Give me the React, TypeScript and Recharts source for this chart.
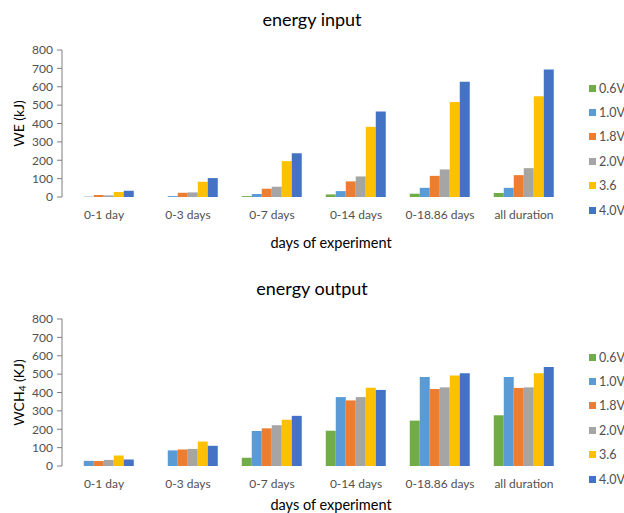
import React from "react";
import { BarChart, Bar, XAxis, YAxis, Label } from "recharts";

const categories = ["0-1 day", "0-3 days", "0-7 days", "0-14 days", "0-18.86 days", "all duration"];
const seriesNames = ["0.6V", "1.0V", "1.8V", "2.0V", "3.6", "4.0V"];
const seriesColors = ["#70AD47", "#5B9BD5", "#ED7D31", "#A5A5A5", "#FFC000", "#4472C4"];

// energy input, WE (kJ)
const input06 = [0, 0, 5, 14, 18, 22];
const input10 = [2, 5, 16, 32, 50, 50];
const input18 = [11, 23, 45, 85, 115, 119];
const input20 = [9, 25, 56, 112, 150, 157];
const input36 = [27, 83, 195, 382, 517, 548];
const input40 = [34, 103, 238, 465, 627, 694];

// energy output, WCH4 (KJ)
const output06 = [0, 0, 45, 192, 247, 276];
const output10 = [28, 85, 190, 375, 485, 485];
const output18 = [27, 90, 205, 357, 419, 425];
const output20 = [33, 93, 222, 375, 428, 428];
const output36 = [57, 133, 252, 426, 492, 505];
const output40 = [36, 110, 273, 414, 505, 539];

const yTicks = [0, 100, 200, 300, 400, 500, 600, 700, 800];

const FONT = "Lato, 'Open Sans', sans-serif";
const TEXT = "#505050";
const AXIS = "#7f7f7f";

function buildRows(series: number[][]) {
  return categories.map((name, i) => {
    const row: Record<string, string | number> = { name };
    seriesNames.forEach((s, j) => {
      row[s] = series[j][i];
    });
    return row;
  });
}

const inputRows = buildRows([input06, input10, input18, input20, input36, input40]);
const outputRows = buildRows([output06, output10, output18, output20, output36, output40]);

function YTitle({ viewBox, sub }: any) {
  const cy = viewBox.y + viewBox.height / 2;
  return (
    <text
      x={18}
      y={cy}
      transform={`rotate(-90, 18, ${cy})`}
      textAnchor="middle"
      dominantBaseline="central"
      fill="#000"
      fontSize={14}
      fontFamily={FONT}
    >
      {sub ? (
        <>
          WCH
          <tspan fontSize={10} dy={4}>4</tspan>
          <tspan dy={-4}> (KJ)</tspan>
        </>
      ) : (
        "WE (kJ)"
      )}
    </text>
  );
}

function EnergyChart({
  title,
  rows,
  sub,
  height,
  labelOffset,
}: {
  title: string;
  rows: any[];
  sub?: boolean;
  height: number;
  labelOffset: number;
}) {
  // plot area always spans y 50..197 inside the chart
  const bottom = height - 197 - 30;
  return (
    <div style={{ position: "relative", width: 624, height }}>
      <div
        style={{
          position: "absolute",
          top: 8,
          left: 0,
          width: 624,
          textAlign: "center",
          fontFamily: FONT,
          fontSize: 18,
          color: "#000",
        }}
      >
        {title}
      </div>
      <BarChart
        width={624}
        height={height}
        data={rows}
        margin={{ top: 50, right: 58, left: 0, bottom }}
        barGap={0}
        barCategoryGap="14%"
      >
        <XAxis
          xAxisId="grid"
          type="number"
          domain={[0, categories.length]}
          ticks={categories.map((_, i) => i).concat(categories.length)}
          tickFormatter={() => ""}
          height={0}
          tickSize={5}
          tickLine={{ stroke: AXIS }}
          stroke={AXIS}
        />
        <XAxis
          xAxisId="cat"
          dataKey="name"
          axisLine={false}
          tickLine={false}
          height={30}
          tickMargin={7}
          interval={0}
          tick={{ fill: TEXT, fontSize: 12, fontFamily: FONT }}
        >
          <Label
            value="days of experiment"
            position="bottom"
            offset={labelOffset}
            dx={17}
            fill="#000"
            fontSize={14.5}
            fontFamily={FONT}
          />
        </XAxis>
        <YAxis
          width={62}
          domain={[0, 800]}
          ticks={yTicks}
          interval={0}
          tickSize={5}
          tickMargin={4}
          stroke={AXIS}
          tick={{ fill: TEXT, fontSize: 12, fontFamily: FONT }}
        >
          <Label content={(p: any) => <YTitle {...p} sub={sub} />} />
        </YAxis>
        {seriesNames.map((s, i) => (
          <Bar
            key={s}
            xAxisId="cat"
            dataKey={s}
            fill={seriesColors[i]}
            isAnimationActive={false}
          />
        ))}
      </BarChart>
      <div style={{ position: "absolute", left: 589, top: 76 }}>
        {seriesNames.map((s, i) => (
          <div
            key={s}
            style={{
              height: 24.4,
              display: "flex",
              alignItems: "center",
              fontFamily: FONT,
              fontSize: 12.5,
              color: TEXT,
            }}
          >
            <span
              style={{
                width: 7,
                height: 7,
                background: seriesColors[i],
                marginRight: 3,
                display: "inline-block",
              }}
            />
            {s}
          </div>
        ))}
      </div>
    </div>
  );
}

export default function App() {
  return (
    <div
      style={{
        position: "absolute",
        left: 0,
        top: 0,
        width: 624,
        height: 513,
        background: "#fff",
      }}
    >
      <div style={{ position: "absolute", top: 0, left: 0 }}>
        <EnergyChart title="energy input" rows={inputRows} height={262} labelOffset={11} />
      </div>
      <div style={{ position: "absolute", top: 269, left: 0 }}>
        <EnergyChart title="energy output" rows={outputRows} sub height={244} labelOffset={4} />
      </div>
    </div>
  );
}
